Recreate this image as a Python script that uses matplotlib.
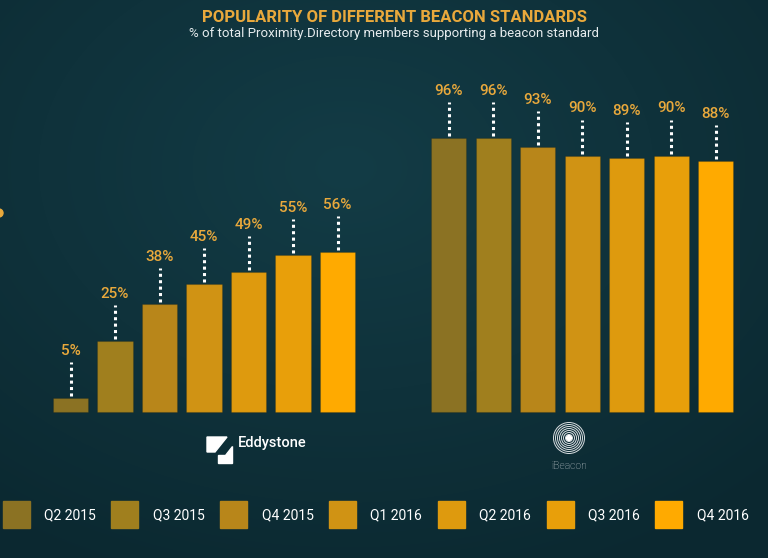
"""Popularity of different beacon standards - grouped bars per quarter."""

import matplotlib
matplotlib.use("Agg")
import matplotlib.pyplot as plt
from matplotlib.patches import Rectangle, Ellipse, Polygon
import numpy as np

# data
quarters = ["Q2 2015", "Q3 2015", "Q4 2015", "Q1 2016", "Q2 2016", "Q3 2016", "Q4 2016"]
eddystone = [5, 25, 38, 45, 49, 55, 56]
ibeacon = [96, 96, 93, 90, 89, 90, 88]
bar_colors = ["#8B7223", "#A07F1E", "#B8861A", "#D09314", "#DE9A0E", "#E89F0A", "#FFAA00"]

W, H = 768, 558
fig = plt.figure(figsize=(W / 100, H / 100), dpi=100)

# background: dark teal with soft radial glow
bg = fig.add_axes([0, 0, 1, 1], zorder=-5)
yy, xx = np.mgrid[0:H, 0:W]
r = np.sqrt(((xx - W * 0.45) / W) ** 2 + ((yy - H * 0.3) / H) ** 2)
c0 = np.array([0x13, 0x3c, 0x46]) / 255
c1 = np.array([0x0b, 0x28, 0x30]) / 255
t = np.clip(r / 0.8, 0, 1)[..., None]
bg.imshow(c0 * (1 - t) + c1 * t, aspect="auto", extent=(0, W, H, 0))
bg.axis("off")

# main axes: x in bar slots, y in percent (0% sits at 412px from top)
px_per_pct = 2.85
ax = fig.add_axes([0, 0, 1, 1])
ax.set_xlim(-70.5 / 44.5, (W - 70.5) / 44.5)
ax.set_ylim(-146 / px_per_pct, 412 / px_per_pct)
ax.axis("off")

label_color = "#E9A93C"
groups = [(eddystone, 0.0), (ibeacon, 8.5)]
for values, start in groups:
    xs = start + np.arange(len(values))
    ax.bar(xs, values, width=0.79, color=bar_colors, edgecolor="#00000022", linewidth=0.8)
    for x, v in zip(xs, values):
        ax.vlines(x, v + 0.7, v + 12.6, color="white", linewidth=2.2,
                  linestyles=(0, (1, 1.1)))
        ax.text(x, v + 16.5, f"{v}%", ha="center", va="center", color=label_color,
                fontsize=11, fontfamily="Roboto", fontweight="medium")

# titles
fig.text(394 / W, 1 - 17 / H, "POPULARITY OF DIFFERENT BEACON STANDARDS", ha="center",
         va="center", color="#E9A93C", fontsize=12, fontweight="bold", fontfamily="Roboto")
fig.text(394 / W, 1 - 33 / H, "% of total Proximity.Directory members supporting a beacon standard",
         ha="center", va="center", color="#E6ECEE", fontsize=9.5, fontfamily="Roboto")


def fp(x, y):
    # pixel position (from top-left) -> figure fraction
    return (x / W, 1 - y / H)


# Eddystone logo + name
fig.patches.append(Polygon([fp(207, 437), fp(227, 437), fp(215, 452), fp(207, 452)],
                           closed=True, color="white", transform=fig.transFigure))
fig.patches.append(Polygon([fp(232, 446), fp(232, 463), fp(218, 463), fp(218, 455), fp(225, 455)],
                           closed=True, color="white", transform=fig.transFigure))
fig.text(238 / W, 1 - 443 / H, "Eddystone", ha="left", va="center", color="white",
         fontsize=10.5, fontweight="medium", fontfamily="Roboto")

# iBeacon logo + name
for rad in np.arange(3.5, 17.5, 2.0):
    fig.patches.append(Ellipse(fp(569, 438), 2 * rad / W, 2 * rad / H, edgecolor="#d8dde0",
                               fill=False, linewidth=0.7, transform=fig.transFigure))
fig.patches.append(Ellipse(fp(569, 438), 5 / W, 5 / H, color="white", transform=fig.transFigure))
fig.text(569 / W, 1 - 466 / H, "iBeacon", ha="center", va="center", color="#c8cfd2",
         fontsize=7.5, fontweight="light", fontfamily="Roboto")

# small cut-off dot at the left edge
fig.patches.append(Ellipse(fp(-1, 213), 8 / W, 8 / H, color="#E9A93C", transform=fig.transFigure))

# legend row
for i, (q, c) in enumerate(zip(quarters, bar_colors)):
    x0 = 2.5 + i * 108.8
    fig.patches.append(Rectangle((x0 / W, 1 - 528 / H), 27 / W, 27 / H, color=c,
                                 transform=fig.transFigure))
    fig.text((x0 + 41.5) / W, 1 - 515 / H, q, ha="left", va="center", color="white",
             fontsize=10, fontfamily="Roboto")

fig.savefig("out.png", dpi=100)
